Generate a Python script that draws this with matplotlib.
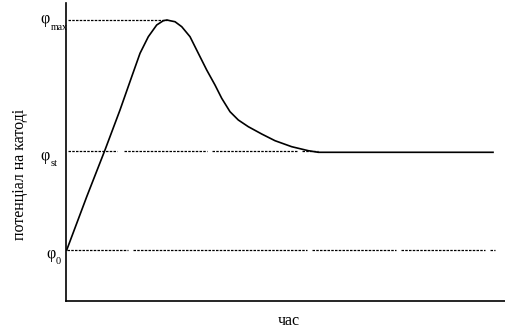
import matplotlib.pyplot as plt

# curve (time, potential) in arbitrary units 0..100
time = [0.16, 4.72, 8.88, 12.30, 14.97, 16.86, 18.75, 20.66, 22.16, 23.0, 23.69,
        24.83, 26.36, 28.25, 30.14, 32.05, 33.94, 35.47, 37.36, 39.25, 41.53,
        44.58, 47.61, 51.41, 55.19, 57.47, 97.27]
potential = [17.1, 35.0, 50.67, 64.09, 75.27, 83.12, 88.69, 92.62, 94.06, 94.3, 94.06,
             93.72, 92.05, 88.69, 83.12, 77.52, 72.48, 68.02, 63.52, 60.74, 58.49,
             56.04, 53.79, 51.78, 50.44, 49.9, 49.9]

phi_0 = 17.1
phi_st = 50.3
phi_max = 94.3

# dotted guide lines, pieces (start, end) along time
max_pieces = [(0.5, 22.9)]
st_pieces = [(0.5, 11.6), (13.1, 32.1), (33.3, 52.6), (53.8, 57.5)]
zero_pieces = [(0.2, 14.1), (15.3, 54.9), (56.1, 75.1), (76.3, 95.5), (96.5, 97.7)]

W, H = 505, 331
fig = plt.figure(figsize=(W / 100, H / 100), dpi=100)
ax = fig.add_axes([66 / W, 30 / H, 439 / W, 298 / H])
ax.set_xlim(0, 100)
ax.set_ylim(0, 100)

ax.plot(time, potential, color='black', lw=1.2, solid_joinstyle='round')

dots = dict(color='black', lw=0.9, linestyle=(0, (2, 1)))
for level, pieces in [(phi_max, max_pieces), (phi_st, st_pieces), (phi_0, zero_pieces)]:
    for a, b in pieces:
        ax.plot([a, b], [level, level], **dots)

for s in ['top', 'right']:
    ax.spines[s].set_visible(False)
for s in ['left', 'bottom']:
    ax.spines[s].set_linewidth(1.2)
ax.set_xticks([])
ax.set_yticks([])

font = 'Liberation Serif'

def px(x, y):
    return x / W, 1 - y / H

# labels for the levels
fig.text(*px(40, 19), 'φ', family=font, fontsize=11.5, va='center', ha='left')
fig.text(*px(51, 28), 'max', family=font, fontsize=7, va='center', ha='left')
fig.text(*px(40, 156), 'φ', family=font, fontsize=11.5, va='center', ha='left')
fig.text(*px(51, 163), 'st', family=font, fontsize=7.5, va='center', ha='left')
fig.text(*px(46, 254), 'φ', family=font, fontsize=11.5, va='center', ha='left')
fig.text(*px(56, 261), '0', family=font, fontsize=7.5, va='center', ha='left')

fig.text(*px(20, 174), 'потенціал на катоді', family=font, fontsize=11.5,
         rotation=90, va='center', ha='center')
fig.text(*px(289, 321), 'час', family=font, fontsize=11.5, va='center', ha='center')

fig.savefig('out.png', dpi=100)
